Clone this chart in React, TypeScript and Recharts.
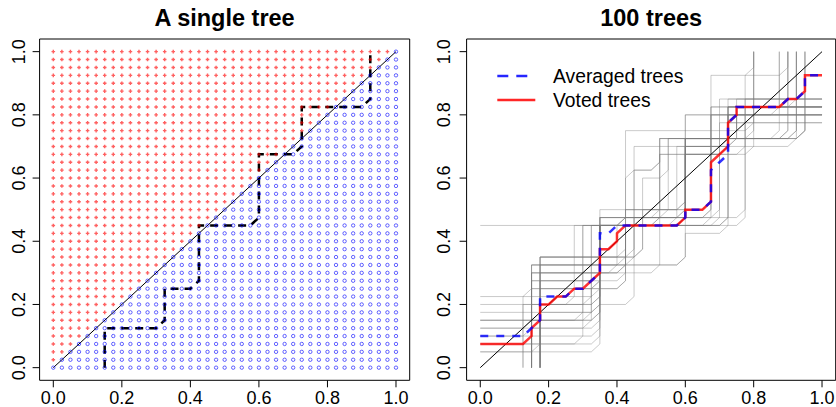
import React from 'react';
import { ComposedChart, Scatter, Line, XAxis, YAxis, ReferenceArea } from 'recharts';

const FONT = '"Liberation Sans", Arial, Helvetica, sans-serif';

// grid of evaluation points (both axes)
const gridSteps = [0, 0.025, 0.05, 0.075, 0.1, 0.125, 0.15, 0.175, 0.2, 0.225, 0.25, 0.275, 0.3, 0.325, 0.35, 0.375, 0.4, 0.425, 0.45, 0.475, 0.5, 0.525, 0.55, 0.575, 0.6, 0.625, 0.65, 0.675, 0.7, 0.725, 0.75, 0.775, 0.8, 0.825, 0.85, 0.875, 0.9, 0.925, 0.95, 0.975, 1];

const tickValues = [0, 0.2, 0.4, 0.6, 0.8, 1];
const titles = ['A single tree', '100 trees'];
const legendLabels = ['Averaged trees', 'Voted trees'];
const diagonal = [{ x: 0, y: 0 }, { x: 1, y: 1 }];

// single tree: [x0, y0, x1, y1, ...] risers and levels of the staircase
const singleTree = [0.15, 0.125, 0.325, 0.25, 0.425, 0.45, 0.6, 0.675, 0.725, 0.825, 0.925, 1];

// 100-tree panel: sample of individual tree staircases
const trees: number[][] = [
  [0.15, 0.125, 0.325, 0.25, 0.425, 0.45, 0.6, 0.675, 0.725, 0.825, 0.925, 1],
  [0, 0.05, 0.35, 0.45, 0.6, 0.7, 0.725, 0.825, 0.9, 1],
  [0, 0.075, 0.35, 0.475, 0.6, 0.725, 0.75, 0.8],
  [0, 0.1, 0.35, 0.45, 0.525, 0.675, 0.725, 0.85],
  [0, 0.125, 0.35, 0.475, 0.675, 0.825],
  [0, 0.15, 0.3, 0.45, 0.6, 0.725, 0.95, 1],
  [0, 0.175, 0.35, 0.45, 0.675, 0.8],
  [0, 0.2, 0.275, 0.45, 0.425, 0.5, 0.675, 0.8, 0.875, 1],
  [0, 0.225, 0.15, 0.325, 0.425, 0.475, 0.6, 0.7, 0.75, 0.825],
  [0, 0.1, 0.15, 0.3, 0.425, 0.45, 0.6, 0.725, 0.925, 1],
  [0, 0.05, 0.175, 0.35, 0.475, 0.5, 0.6, 0.725, 0.9, 1],
  [0.15, 0.25, 0.35, 0.45, 0.6, 0.7, 0.725, 0.8],
  [0.15, 0.275, 0.425, 0.45, 0.725, 0.825],
  [0.15, 0.3, 0.425, 0.5, 0.6, 0.675, 0.775, 0.85],
  [0.15, 0.325, 0.45, 0.475, 0.525, 0.725, 0.95, 1],
  [0.175, 0.35, 0.425, 0.475, 0.675, 0.825],
  [0.175, 0.25, 0.35, 0.475, 0.55, 0.725, 0.875, 1],
  [0.175, 0.2, 0.35, 0.45, 0.6, 0.675, 0.725, 0.8],
  [0.175, 0.3, 0.4, 0.45, 0.7, 0.85],
  [0.125, 0.225, 0.35, 0.45, 0.6, 0.725, 0.925, 1],
  [0.15, 0.15, 0.325, 0.45, 0.575, 0.7, 0.75, 0.825],
  [0.175, 0.175, 0.35, 0.5, 0.675, 0.925, 0.9, 1],
  [0, 0.075, 0.3, 0.45, 0.6, 0.8],
  [0.15, 0.25, 0.425, 0.45, 0.525, 0.675, 0.8, 1],
  [0, 0.15, 0.35, 0.45, 0.725, 0.825],
  [0, 0.45, 0.425, 0.75, 0.8, 1],
  [0.15, 0.325, 0.6, 0.8],
  [0.175, 0.35, 0.45, 0.625, 0.525, 0.725, 0.95, 1],
  [0.125, 0.2, 0.35, 0.45, 0.425, 0.6, 0.45, 0.7, 0.925, 1],
  [0, 0.125, 0.15, 0.275, 0.35, 0.475, 0.7, 0.775],
  [0.15, 0.2, 0.325, 0.45, 0.6, 0.725, 0.75, 0.85],
  [0.175, 0.275, 0.35, 0.45, 0.775, 0.825],
  [0, 0.15, 0.35, 0.2, 0.45, 0.625, 0.525, 0.725, 0.9, 1],
  [0.175, 0.325, 0.6, 0.425, 0.725, 0.775],
  [0.15, 0.3, 0.525, 0.475, 0.775, 0.925, 0.8, 1],
  [0.175, 0.35, 0.475, 0.6, 0.55, 0.725, 0.8, 1],
];

// averaged-trees boundary
const averagedPath = [
  { x: 0, y: 0.1 }, { x: 0.125, y: 0.1 }, { x: 0.15, y: 0.125 }, { x: 0.175, y: 0.15 },
  { x: 0.175, y: 0.225 }, { x: 0.25, y: 0.225 }, { x: 0.275, y: 0.25 }, { x: 0.3, y: 0.25 },
  { x: 0.325, y: 0.275 }, { x: 0.35, y: 0.3 }, { x: 0.35, y: 0.425 }, { x: 0.375, y: 0.425 },
  { x: 0.4, y: 0.45 }, { x: 0.575, y: 0.45 }, { x: 0.6, y: 0.475 }, { x: 0.6, y: 0.5 },
  { x: 0.65, y: 0.5 }, { x: 0.675, y: 0.525 }, { x: 0.675, y: 0.625 }, { x: 0.7, y: 0.65 },
  { x: 0.725, y: 0.675 }, { x: 0.725, y: 0.775 }, { x: 0.75, y: 0.8 }, { x: 0.75, y: 0.825 },
  { x: 0.875, y: 0.825 }, { x: 0.9, y: 0.85 }, { x: 0.925, y: 0.85 }, { x: 0.95, y: 0.875 },
  { x: 0.95, y: 0.925 }, { x: 1, y: 0.925 },
];

// voted-trees boundary
const votedPath = [
  { x: 0, y: 0.075 }, { x: 0.125, y: 0.075 }, { x: 0.15, y: 0.1 }, { x: 0.15, y: 0.125 },
  { x: 0.175, y: 0.15 }, { x: 0.175, y: 0.2 }, { x: 0.2, y: 0.2 }, { x: 0.225, y: 0.225 },
  { x: 0.25, y: 0.225 }, { x: 0.275, y: 0.25 }, { x: 0.3, y: 0.25 }, { x: 0.325, y: 0.275 },
  { x: 0.35, y: 0.3 }, { x: 0.35, y: 0.375 }, { x: 0.375, y: 0.375 }, { x: 0.4, y: 0.4 },
  { x: 0.4, y: 0.425 }, { x: 0.425, y: 0.45 }, { x: 0.575, y: 0.45 }, { x: 0.6, y: 0.475 },
  { x: 0.6, y: 0.5 }, { x: 0.65, y: 0.5 }, { x: 0.675, y: 0.525 }, { x: 0.675, y: 0.65 },
  { x: 0.725, y: 0.7 }, { x: 0.725, y: 0.775 }, { x: 0.75, y: 0.8 }, { x: 0.75, y: 0.825 },
  { x: 0.875, y: 0.825 }, { x: 0.9, y: 0.85 }, { x: 0.925, y: 0.85 }, { x: 0.95, y: 0.875 },
  { x: 0.95, y: 0.925 }, { x: 1, y: 0.925 },
];

const STEP = 0.025;

function staircase(t: number[]) {
  const pts: { x: number; y: number }[] = [];
  const n = t.length / 2;
  if (t[0] === 0) {
    pts.push({ x: 0, y: t[1] });
  } else {
    pts.push({ x: t[0], y: 0 });
    pts.push({ x: t[0], y: t[1] });
  }
  for (let i = 1; i < n; i++) {
    const x = t[2 * i];
    const yPrev = t[2 * i - 1];
    const y = t[2 * i + 1];
    pts.push({ x: x - STEP, y: yPrev });
    pts.push({ x, y: yPrev + STEP });
    pts.push({ x, y });
  }
  const last = t[2 * n - 1];
  if (last < 1) pts.push({ x: 1, y: last });
  return pts;
}

const redPoints: { x: number; y: number }[] = [];
const bluePoints: { x: number; y: number }[] = [];
gridSteps.forEach((gy) => {
  gridSteps.forEach((gx) => {
    if (gy > gx + 1e-9) redPoints.push({ x: gx, y: gy });
    else bluePoints.push({ x: gx, y: gy });
  });
});

const CrossShape = (props: any) => {
  const { cx, cy } = props;
  if (cx == null || cy == null) return null;
  return (
    <path
      d={`M${cx - 1.8},${cy}h3.6M${cx},${cy - 1.8}v3.6`}
      stroke="rgba(255,0,0,0.62)"
      strokeWidth={1.4}
      fill="none"
    />
  );
};

const CircleShape = (props: any) => {
  const { cx, cy } = props;
  if (cx == null || cy == null) return null;
  return <circle cx={cx} cy={cy} r={1.7} fill="none" stroke="rgba(0,0,255,0.6)" strokeWidth={1} />;
};

const fmt = (v: number) => Number(v).toFixed(1);

const makeXTick = () => (props: any) => {
  const { x, y, payload } = props;
  return (
    <text x={x} y={y + 14.5} textAnchor="middle" fontSize={18} fontFamily={FONT} fill="#000">
      {fmt(payload.value)}
    </text>
  );
};

const makeYTick = (off: number) => (props: any) => {
  const { x, y, payload } = props;
  const tx = x - off;
  return (
    <text
      x={tx}
      y={y}
      transform={`rotate(-90 ${tx} ${y})`}
      textAnchor="middle"
      fontSize={18}
      fontFamily={FONT}
      fill="#000"
    >
      {fmt(payload.value)}
    </text>
  );
};

const DOMAIN: [number, number] = [-0.04, 1.04];

export default function App() {
  const treeLines = trees.map((t) => staircase(t));
  const singlePath = staircase(singleTree);
  return (
    <div style={{ position: 'absolute', left: 0, top: 0, width: 836, height: 407, background: '#fff' }}>
      <div style={{ position: 'absolute', left: 0, top: 0 }}>
        <ComposedChart width={418} height={407} margin={{ top: 39, right: 8.3, bottom: 0, left: 0 }}>
          <XAxis
            type="number"
            dataKey="x"
            domain={DOMAIN}
            ticks={tickValues}
            allowDataOverflow
            axisLine={false}
            tickSize={7}
            height={26.7}
            tickLine={{ stroke: '#000' }}
            tick={makeXTick()}
            interval={0}
          />
          <YAxis
            type="number"
            dataKey="y"
            domain={DOMAIN}
            ticks={tickValues}
            allowDataOverflow
            axisLine={false}
            tickSize={7}
            width={39.6}
            tickLine={{ stroke: '#000' }}
            tick={makeYTick(5.6)}
            interval={0}
          />
          <ReferenceArea x1={-0.04} x2={1.04} y1={-0.04} y2={1.04} fill="none" stroke="#000" strokeWidth={1} fillOpacity={0} />
          <Scatter data={redPoints} shape={CrossShape} isAnimationActive={false} />
          <Scatter data={bluePoints} shape={CircleShape} isAnimationActive={false} />
          <Line data={diagonal} dataKey="y" stroke="#000" strokeWidth={1} dot={false} activeDot={false} isAnimationActive={false} />
          <Line
            data={singlePath}
            dataKey="y"
            stroke="#000"
            strokeWidth={2.5}
            strokeDasharray="8 6"
            dot={false}
            activeDot={false}
            isAnimationActive={false}
          />
        </ComposedChart>
      </div>
      <div style={{ position: 'absolute', left: 418, top: 0 }}>
        <ComposedChart width={418} height={407} margin={{ top: 39, right: 0.3, bottom: 0, left: 0 }}>
          <XAxis
            type="number"
            dataKey="x"
            domain={DOMAIN}
            ticks={tickValues}
            allowDataOverflow
            axisLine={false}
            tickSize={7}
            height={26.7}
            tickLine={{ stroke: '#000' }}
            tick={makeXTick()}
            interval={0}
          />
          <YAxis
            type="number"
            dataKey="y"
            domain={DOMAIN}
            ticks={tickValues}
            allowDataOverflow
            axisLine={false}
            tickSize={7}
            width={48.6}
            tickLine={{ stroke: '#000' }}
            tick={makeYTick(7.5)}
            interval={0}
          />
          <ReferenceArea x1={-0.04} x2={1.04} y1={-0.04} y2={1.04} fill="none" stroke="#000" strokeWidth={1} fillOpacity={0} />
          {treeLines.map((pts, i) => (
            <Line
              key={i}
              data={pts}
              dataKey="y"
              stroke="#7a7a7a"
              strokeOpacity={0.4}
              strokeWidth={1}
              dot={false}
              activeDot={false}
              isAnimationActive={false}
            />
          ))}
          <Line data={diagonal} dataKey="y" stroke="#000" strokeWidth={1} dot={false} activeDot={false} isAnimationActive={false} />
          <Line
            data={votedPath}
            dataKey="y"
            stroke="#ff0000"
            strokeOpacity={0.8}
            strokeWidth={2.5}
            dot={false}
            activeDot={false}
            isAnimationActive={false}
          />
          <Line
            data={averagedPath}
            dataKey="y"
            stroke="#0000ff"
            strokeOpacity={0.8}
            strokeWidth={2.5}
            strokeDasharray="8 8"
            dot={false}
            activeDot={false}
            isAnimationActive={false}
          />
        </ComposedChart>
      </div>
      <svg
        width={836}
        height={407}
        style={{ position: 'absolute', left: 0, top: 0, pointerEvents: 'none' }}
      >
        <text x={224.6} y={26} textAnchor="middle" fontSize={23.5} fontWeight="bold" fontFamily={FONT}>
          {titles[0]}
        </text>
        <text x={651.2} y={26} textAnchor="middle" fontSize={23.5} fontWeight="bold" fontFamily={FONT}>
          {titles[1]}
        </text>
        <line x1={497.3} x2={535.3} y1={76} y2={76} stroke="#0000ff" strokeOpacity={0.85} strokeWidth={2.5} strokeDasharray="11 8" />
        <line x1={497.3} x2={535.3} y1={100} y2={100} stroke="#ff0000" strokeOpacity={0.85} strokeWidth={2.5} />
        <text x={553} y={82.7} fontSize={19.3} fontFamily={FONT}>
          {legendLabels[0]}
        </text>
        <text x={553} y={106.7} fontSize={19.3} fontFamily={FONT}>
          {legendLabels[1]}
        </text>
      </svg>
    </div>
  );
}
